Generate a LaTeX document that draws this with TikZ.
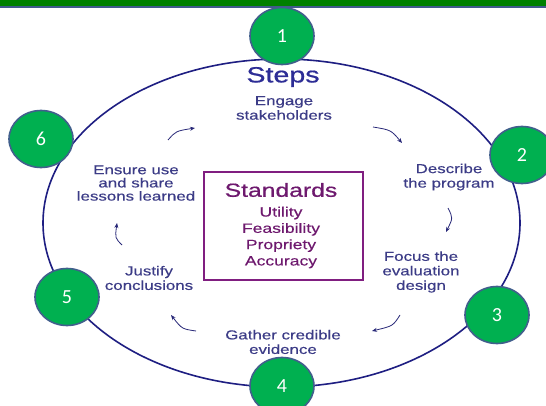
\documentclass[tikz,border=0pt]{standalone}
\usepackage{fontspec}
\setmainfont{Liberation Sans}[FakeStretch=1.3,FakeBold=0.35]
\newfontfamily\headfont{Liberation Sans}[FakeStretch=1.3,FakeBold=0.7]
\newfontfamily\numfont{Carlito}
\usetikzlibrary{arrows.meta,shapes.geometric}
\definecolor{bargreen}{RGB}{0,128,0}
\definecolor{barline}{RGB}{65,90,140}
\definecolor{ringblue}{RGB}{30,30,130}
\definecolor{stepsblue}{RGB}{45,45,150}
\definecolor{labelblue}{RGB}{60,60,135}
\definecolor{boxpurple}{RGB}{128,30,128}
\definecolor{textpurple}{RGB}{110,25,110}
\definecolor{circgreen}{RGB}{0,176,80}
\definecolor{circedge}{RGB}{65,95,140}
\definecolor{arrowblue}{RGB}{40,40,120}
\begin{document}
\begin{tikzpicture}[x=1pt,y=-1pt,
  numcirc/.style={ellipse,draw=circedge,fill=circgreen,line width=1.6pt,
    minimum width=64pt,minimum height=57pt,inner sep=0pt,
    text=white,font=\numfont\fontsize{20}{22}\selectfont},
  steplabel/.style={text=labelblue,align=center,inner sep=0pt,
    font=\fontsize{13}{14.5}\selectfont},
  cyclearrow/.style={draw=arrowblue,line width=0.8pt,
    -{Stealth[length=5pt,width=4pt]}}]
\useasboundingbox (0,0) rectangle (546,406);
\fill[white] (0,0) rectangle (546,406);
% top bar
\fill[bargreen] (0,0) rectangle (546,6.3);
\fill[barline] (0,6.3) rectangle (546,8.3);
% ring
\draw[ringblue,line width=1.6pt] (281.5,223) ellipse [x radius=238.5,y radius=164];
% labels
\node[text=stepsblue,font=\headfont\fontsize{22}{24}\selectfont,inner sep=0pt] (steps) at (283,77) {Steps};
\node[steplabel] (engage) at (284,108) {Engage\\stakeholders};
\node[steplabel] (describe) at (449,177) {Describe\\the program};
\node[steplabel] (focus) at (421,272) {Focus the\\evaluation\\design};
\node[steplabel] (gather) at (283,342) {Gather credible\\evidence};
\node[steplabel] (justify) at (149,278) {Justify\\conclusions};
\node[steplabel,font=\fontsize{13}{13.2}\selectfont] (ensure) at (136,183) {Ensure use\\and share\\lessons learned};
% standards box
\node[draw=boxpurple,line width=1.6pt,minimum width=159pt,minimum height=108pt] (stdbox) at (283.5,226) {};
\node[text=textpurple,font=\headfont\fontsize{19}{21}\selectfont,inner sep=0pt] (stdtitle) at (281,190) {Standards};
\node[text=textpurple,align=center,inner sep=0pt,font=\fontsize{13.5}{16.3}\selectfont] (stdlist) at (281,237.5) {Utility\\Feasibility\\Propriety\\Accuracy};
% cycle arrows
\coordinate (a1s) at (168,140); \coordinate (a1e) at (195,128);
\coordinate (a2s) at (373,127); \coordinate (a2e) at (402,143);
\coordinate (a3s) at (448,208); \coordinate (a3e) at (446,232);
\coordinate (a4s) at (400,315); \coordinate (a4e) at (372,331);
\coordinate (a5s) at (196,331); \coordinate (a5e) at (171,315);
\coordinate (a6s) at (122,245); \coordinate (a6e) at (117,223);
\draw[cyclearrow] (a1s) .. controls (176,131) .. (a1e);
\draw[cyclearrow] (a2s) .. controls (391,130) .. (a2e);
\draw[cyclearrow] (a3s) .. controls (453,218) .. (a3e);
\draw[cyclearrow] (a4s) .. controls (393,326) .. (a4e);
\draw[cyclearrow] (a5s) .. controls (182,329) .. (a5e);
\draw[cyclearrow] (a6s) .. controls (115,238) .. (a6e);
% numbered circles
\node[numcirc] (c1) at (282,36) {1};
\node[numcirc] (c2) at (522,155) {2};
\node[numcirc] (c3) at (497,315) {3};
\node[numcirc] (c4) at (282,386) {4};
\node[numcirc] (c5) at (67,297) {5};
\node[numcirc] (c6) at (41,139) {6};
\end{tikzpicture}
\end{document}
